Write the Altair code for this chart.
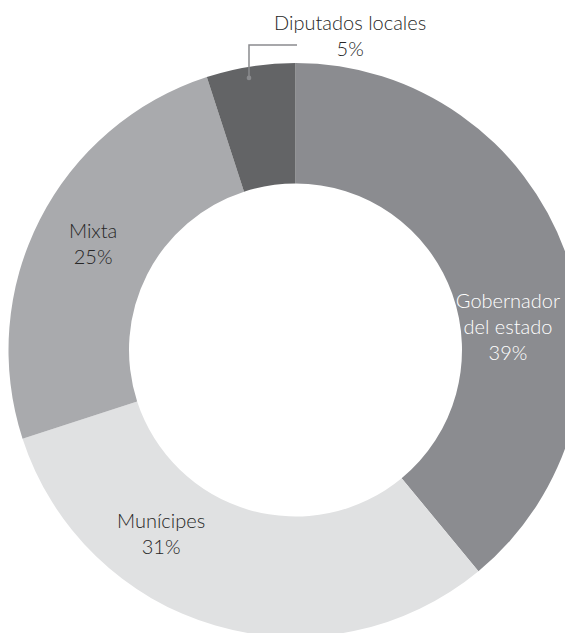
import math
import altair as alt
import pandas as pd

# ---- data ----
categories = ["Gobernador del estado", "Munícipes", "Mixta", "Diputados locales"]
values = [39, 31, 25, 5]
label_lines = [["Gobernador", "del estado", "39%"], ["Munícipes", "31%"], ["Mixta", "25%"], ["Diputados locales", "5%"]]

# ---- style ----
colors = ["#8b8c90", "#e0e1e2", "#a9aaad", "#636466"]
text_colors = ["#ffffff", "#262626", "#262626", "#262626"]
label_angle = [84.1, 216.0, 297.4, 9.9]      # degrees clockwise from top
label_radius = [213.6, 228.7, 228.0, 317.7]
W, H = 557, 625
CX, CY = 287.5, 342.0
R_OUT, R_IN = 287, 166.5
FONT = "Lato"
FS, LH = 20, 26

df = pd.DataFrame({"cat": categories, "value": values, "order": range(len(values))})

arc = alt.Chart(df).mark_arc(outerRadius=R_OUT, innerRadius=R_IN, stroke=None).encode(
    theta=alt.Theta("value:Q", stack=True, scale=alt.Scale(domain=[0, sum(values)], range=[0, 2 * math.pi])),
    color=alt.Color("cat:N", scale=alt.Scale(domain=categories, range=colors), legend=None),
    order=alt.Order("order:Q"),
    x=alt.value(CX),
    y=alt.value(CY),
)

lab = pd.DataFrame({
    "cat": categories,
    "text": label_lines,
    "lx": [CX + r * math.sin(math.radians(a)) for a, r in zip(label_angle, label_radius)],
    "ly": [CY - r * math.cos(math.radians(a)) - (len(t) - 1) * LH / 2
           for a, r, t in zip(label_angle, label_radius, label_lines)],
})
labels = alt.Chart(lab).mark_text(font=FONT, fontSize=FS, fontWeight=300, lineHeight=LH, baseline="middle", align="center").encode(
    x=alt.X("lx:Q", scale=None),
    y=alt.Y("ly:Q", scale=None),
    text="text",
    color=alt.Color("cat:N", scale=alt.Scale(domain=categories, range=text_colors), legend=None),
)

# leader line for the small slice
mid = (sum(values[:3]) + values[3] / 2) / sum(values) * 360 - 0.7
dot_r = 276
dx = CX + dot_r * math.sin(math.radians(mid))
dy = CY - dot_r * math.cos(math.radians(mid))
leader_df = pd.DataFrame({"x": [dx, dx, CX + 1.5], "y": [dy, 37, 37], "i": [0, 1, 2]})
leader = alt.Chart(leader_df).mark_line(color="#8a8b8e", strokeWidth=1.5).encode(
    x=alt.X("x:Q", scale=None), y=alt.Y("y:Q", scale=None), order="i:Q"
)
dot = alt.Chart(pd.DataFrame({"x": [dx], "y": [dy]})).mark_circle(color="#8a8b8e", size=22, opacity=1).encode(
    x=alt.X("x:Q", scale=None), y=alt.Y("y:Q", scale=None)
)

chart = alt.layer(arc, labels, leader, dot).resolve_scale(color="independent").properties(
    width=W, height=H, padding=0, autosize=alt.AutoSizeParams(type="none")
).configure_view(stroke=None)

chart.save("out.html", embed_options={"renderer": "svg", "actions": False})
